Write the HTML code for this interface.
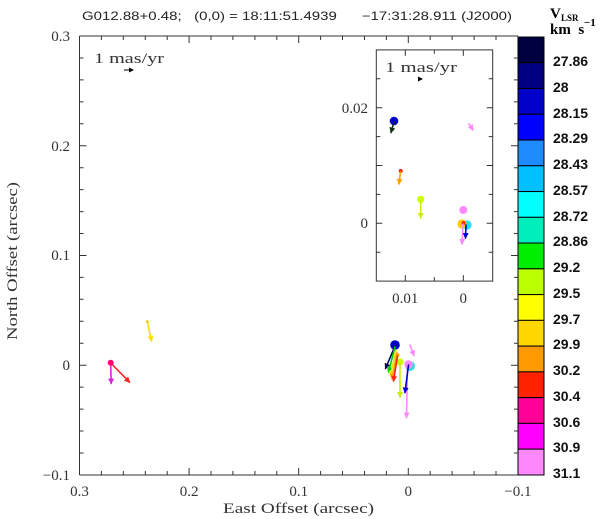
<!DOCTYPE html>
<html><head><meta charset="utf-8">
<style>
html,body{margin:0;padding:0;background:#fff;}
svg{display:block;}
</style></head>
<body>
<svg width="600" height="519" viewBox="0 0 600 519" xmlns="http://www.w3.org/2000/svg">
<defs>
<marker id="mNavy" markerWidth="6" markerHeight="6" refX="5" refY="3" orient="auto" markerUnits="userSpaceOnUse"><path d="M0,0 L6,3 L0,6 z" fill="#000060"/></marker>
<marker id="mDk" markerWidth="6" markerHeight="6" refX="5" refY="3" orient="auto" markerUnits="userSpaceOnUse"><path d="M0,0 L6,3 L0,6 z" fill="#113311"/></marker>
<marker id="mBlue" markerWidth="6" markerHeight="6" refX="5" refY="3" orient="auto" markerUnits="userSpaceOnUse"><path d="M0,0 L6,3 L0,6 z" fill="#0000cc"/></marker>
<marker id="mGreen" markerWidth="6" markerHeight="6" refX="5" refY="3" orient="auto" markerUnits="userSpaceOnUse"><path d="M0,0 L6,3 L0,6 z" fill="#00cc00"/></marker>
<marker id="mYG" markerWidth="6" markerHeight="6" refX="5" refY="3" orient="auto" markerUnits="userSpaceOnUse"><path d="M0,0 L6,3 L0,6 z" fill="#ccee00"/></marker>
<marker id="mYel" markerWidth="6" markerHeight="6" refX="5" refY="3" orient="auto" markerUnits="userSpaceOnUse"><path d="M0,0 L6,3 L0,6 z" fill="#ffdd00"/></marker>
<marker id="mOr" markerWidth="6" markerHeight="6" refX="5" refY="3" orient="auto" markerUnits="userSpaceOnUse"><path d="M0,0 L6,3 L0,6 z" fill="#ffa000"/></marker>
<marker id="mRed" markerWidth="6" markerHeight="6" refX="5" refY="3" orient="auto" markerUnits="userSpaceOnUse"><path d="M0,0 L6,3 L0,6 z" fill="#ff2020"/></marker>
<marker id="mMag" markerWidth="6" markerHeight="6" refX="5" refY="3" orient="auto" markerUnits="userSpaceOnUse"><path d="M0,0 L6,3 L0,6 z" fill="#e020e0"/></marker>
<marker id="mVio" markerWidth="6" markerHeight="6" refX="5" refY="3" orient="auto" markerUnits="userSpaceOnUse"><path d="M0,0 L6,3 L0,6 z" fill="#ff88ff"/></marker>
<marker id="mBlk" markerWidth="5" markerHeight="5" refX="4" refY="2.5" orient="auto" markerUnits="userSpaceOnUse"><path d="M0,0 L5,2.5 L0,5 z" fill="#000"/></marker>
</defs>

<!-- Title -->
<text x="82" y="20" font-family="Liberation Sans, sans-serif" font-size="12" fill="#222" textLength="430" lengthAdjust="spacingAndGlyphs" xml:space="preserve">G012.88+0.48;   (0,0) = 18:11:51.4939      −17:31:28.911 (J2000)</text>

<!-- Colorbar title -->
<text x="550" y="18" font-family="Liberation Serif, serif" font-size="15" font-weight="bold" fill="#000">V</text>
<text x="561" y="21" font-family="Liberation Serif, serif" font-size="9" font-weight="bold" fill="#000">LSR</text>
<text x="550" y="34" font-family="Liberation Serif, serif" font-size="15" font-weight="bold" fill="#000" xml:space="preserve">km  s</text>
<text x="584" y="26" font-family="Liberation Serif, serif" font-size="11" font-weight="bold" fill="#000">−1</text>

<!-- Colorbar -->
<g stroke="#000" stroke-width="1">
<rect x="518" y="37" width="26" height="25.76" fill="#000040"/>
<rect x="518" y="62.76" width="26" height="25.76" fill="#000080"/>
<rect x="518" y="88.52" width="26" height="25.76" fill="#0000c8"/>
<rect x="518" y="114.28" width="26" height="25.76" fill="#0000ff"/>
<rect x="518" y="140.04" width="26" height="25.76" fill="#1e8cff"/>
<rect x="518" y="165.8" width="26" height="25.76" fill="#00c0ff"/>
<rect x="518" y="191.56" width="26" height="25.76" fill="#00ffff"/>
<rect x="518" y="217.32" width="26" height="25.76" fill="#00eebb"/>
<rect x="518" y="243.08" width="26" height="25.76" fill="#00ee00"/>
<rect x="518" y="268.84" width="26" height="25.76" fill="#bbff00"/>
<rect x="518" y="294.6" width="26" height="25.76" fill="#ffff00"/>
<rect x="518" y="320.36" width="26" height="25.76" fill="#ffd700"/>
<rect x="518" y="346.12" width="26" height="25.76" fill="#ff9900"/>
<rect x="518" y="371.88" width="26" height="25.76" fill="#ff2200"/>
<rect x="518" y="397.64" width="26" height="25.76" fill="#ff0099"/>
<rect x="518" y="423.4" width="26" height="25.76" fill="#ff00ff"/>
<rect x="518" y="449.16" width="26" height="25.84" fill="#ff88ff"/>
</g>
<g font-family="Liberation Sans, sans-serif" font-size="14" font-weight="bold" fill="#111">
<text x="553" y="66">27.86</text>
<text x="553" y="92">28</text>
<text x="553" y="118">28.15</text>
<text x="553" y="143">28.29</text>
<text x="553" y="169">28.43</text>
<text x="553" y="195">28.57</text>
<text x="553" y="221">28.72</text>
<text x="553" y="246">28.86</text>
<text x="553" y="272">29.2</text>
<text x="553" y="298">29.5</text>
<text x="553" y="324">29.7</text>
<text x="553" y="349">29.9</text>
<text x="553" y="375">30.2</text>
<text x="553" y="401">30.4</text>
<text x="553" y="427">30.6</text>
<text x="553" y="452">30.9</text>
<text x="553" y="478">31.1</text>
</g>

<!-- Main axes frame -->
<g stroke="#333" stroke-width="1" fill="none">
<line x1="79.5" y1="36" x2="518" y2="36"/>
<line x1="79.5" y1="475" x2="518" y2="475"/>
<line x1="79.5" y1="36" x2="79.5" y2="475"/>
</g>
<!-- x ticks -->
<g stroke="#333" stroke-width="1">
<path d="M79.5,475v-7 M101.4,475v-4 M123.3,475v-4 M145.3,475v-4 M167.2,475v-4 M189.1,475v-7 M211,475v-4 M232.9,475v-4 M254.9,475v-4 M276.8,475v-4 M298.7,475v-7 M320.6,475v-4 M342.5,475v-4 M364.5,475v-4 M386.4,475v-4 M408.3,475v-7 M430.2,475v-4 M452.1,475v-4 M474.1,475v-4 M496,475v-4"/>
<path d="M79.5,36v7 M101.4,36v4 M123.3,36v4 M145.3,36v4 M167.2,36v4 M189.1,36v7 M211,36v4 M232.9,36v4 M254.9,36v4 M276.8,36v4 M298.7,36v7 M320.6,36v4 M342.5,36v4 M364.5,36v4 M386.4,36v4 M408.3,36v7 M430.2,36v4 M452.1,36v4 M474.1,36v4 M496,36v4"/>
<path d="M79.5,36h7 M79.5,58h4 M79.5,79.9h4 M79.5,101.9h4 M79.5,123.8h4 M79.5,145.8h7 M79.5,167.7h4 M79.5,189.6h4 M79.5,211.6h4 M79.5,233.5h4 M79.5,255.5h7 M79.5,277.4h4 M79.5,299.3h4 M79.5,321.3h4 M79.5,343.2h4 M79.5,365.2h7 M79.5,387.1h4 M79.5,409.1h4 M79.5,431h4 M79.5,453h4"/>
<path d="M518,58h-4 M518,79.9h-4 M518,101.9h-4 M518,123.8h-4 M518,145.8h-7 M518,167.7h-4 M518,189.6h-4 M518,211.6h-4 M518,233.5h-4 M518,255.5h-7 M518,277.4h-4 M518,299.3h-4 M518,321.3h-4 M518,343.2h-4 M518,365.2h-7 M518,387.1h-4 M518,409.1h-4 M518,431h-4 M518,453h-4"/>
</g>

<!-- tick labels -->
<g font-family="Liberation Serif, serif" font-size="15" fill="#333">
<text x="70" y="41" text-anchor="end">0.3</text>
<text x="70" y="151" text-anchor="end">0.2</text>
<text x="70" y="260" text-anchor="end">0.1</text>
<text x="70" y="370" text-anchor="end">0</text>
<text x="70" y="480" text-anchor="end">−0.1</text>
<text x="79.5" y="496" text-anchor="middle">0.3</text>
<text x="189.1" y="496" text-anchor="middle">0.2</text>
<text x="298.7" y="496" text-anchor="middle">0.1</text>
<text x="408.3" y="496" text-anchor="middle">0</text>
<text x="517.9" y="496" text-anchor="middle">−0.1</text>
<text x="223" y="513" textLength="151" lengthAdjust="spacingAndGlyphs">East Offset (arcsec)</text>
<text transform="translate(17,340) rotate(-90)" x="0" y="0" textLength="158" lengthAdjust="spacingAndGlyphs">North Offset (arcsec)</text>
<text x="94" y="63" textLength="70" lengthAdjust="spacingAndGlyphs">1 mas/yr</text>
</g>
<line x1="124" y1="70" x2="133" y2="70" stroke="#000" stroke-width="1" marker-end="url(#mBlk)"/>

<!-- Main plot data: left group -->
<g stroke-width="1.6" fill="none" stroke-linecap="round">
<line x1="147.3" y1="321.7" x2="151.5" y2="341" stroke="#ffdd00" marker-end="url(#mYel)"/>
<line x1="110.7" y1="363" x2="111.2" y2="383.5" stroke="#e020e0" marker-end="url(#mMag)"/>
<line x1="110.7" y1="363" x2="129.5" y2="382.2" stroke="#ff2020" marker-end="url(#mRed)"/>
</g>
<circle cx="147.3" cy="321.7" r="1.5" fill="#ffcc00"/>
<circle cx="110.7" cy="362.7" r="3" fill="#ff0077"/>

<!-- Main plot data: near-origin group -->
<circle cx="395" cy="345" r="4.8" fill="#0000c0"/>
<circle cx="410" cy="366" r="5" fill="#33dddd"/>
<circle cx="408.5" cy="364.5" r="4.2" fill="#ff88ff"/>
<circle cx="400" cy="362" r="3.6" fill="#ccff00"/>
<circle cx="397.3" cy="355" r="2.2" fill="#ffaa00"/>
<g stroke-width="1.6" fill="none" stroke-linecap="round">
<line x1="395" y1="346" x2="385.5" y2="368.5" stroke="#000060" marker-end="url(#mNavy)"/>
<line x1="395" y1="347" x2="388.5" y2="372" stroke="#00cc00" marker-end="url(#mGreen)"/>
<line x1="396" y1="350" x2="390.5" y2="376" stroke="#ffdd00" marker-end="url(#mYel)"/>
<line x1="397" y1="353" x2="392" y2="379" stroke="#ffa000" marker-end="url(#mOr)"/>
<line x1="397.5" y1="356" x2="393.5" y2="381" stroke="#ff2020" marker-end="url(#mRed)"/>
<line x1="400" y1="362" x2="400" y2="397" stroke="#ccee00" marker-end="url(#mYG)"/>
<line x1="407.5" y1="365" x2="406.5" y2="417.5" stroke="#ff88ff" marker-end="url(#mVio)"/>
<line x1="408.5" y1="365" x2="405" y2="392.5" stroke="#0000cc" marker-end="url(#mBlue)"/>
<line x1="410" y1="345" x2="414" y2="355.5" stroke="#ff88ff" marker-end="url(#mVio)"/>
</g>

<!-- Inset -->
<rect x="376.3" y="49.9" width="116.4" height="231.2" fill="#fff" stroke="#333" stroke-width="1"/>
<g stroke="#333" stroke-width="1">
<path d="M405.3,49.9v6 M434.3,49.9v4 M463.3,49.9v6 M405.3,281.1v-6 M434.3,281.1v-4 M463.3,281.1v-6"/>
<path d="M376.3,78.8h4 M376.3,107.7h6 M376.3,136.6h4 M376.3,165.5h6 M376.3,194.4h4 M376.3,223.3h6 M376.3,252.2h4"/>
<path d="M492.7,78.8h-4 M492.7,107.7h-6 M492.7,136.6h-4 M492.7,165.5h-6 M492.7,194.4h-4 M492.7,223.3h-6 M492.7,252.2h-4"/>
</g>
<g font-family="Liberation Serif, serif" font-size="15" fill="#333">
<text x="368" y="113" text-anchor="end">0.02</text>
<text x="368" y="228" text-anchor="end">0</text>
<text x="405.3" y="303" text-anchor="middle">0.01</text>
<text x="463.3" y="303" text-anchor="middle">0</text>
<text x="385" y="72" textLength="72" lengthAdjust="spacingAndGlyphs">1 mas/yr</text>
</g>
<line x1="418" y1="79" x2="422" y2="79" stroke="#000" stroke-width="1" marker-end="url(#mBlk)"/>

<circle cx="394" cy="121" r="4.3" fill="#0000cc"/>
<circle cx="420.7" cy="199.3" r="3.6" fill="#ccff00"/>
<circle cx="463.3" cy="210" r="4" fill="#ff88ff"/>
<circle cx="467" cy="225" r="4.6" fill="#22e0ee"/>
<circle cx="462" cy="224" r="4.6" fill="#ffcc00"/>
<circle cx="400.7" cy="171" r="2" fill="#ff2200"/>
<circle cx="463.5" cy="223" r="2" fill="#ff2200"/>
<g stroke-width="1.6" fill="none" stroke-linecap="round">
<line x1="394" y1="122" x2="391" y2="132.5" stroke="#113311" marker-end="url(#mDk)"/>
<line x1="469" y1="124" x2="473" y2="130" stroke="#ff88ff" marker-end="url(#mVio)"/>
<line x1="400.5" y1="172" x2="399" y2="184" stroke="#ffa000" marker-end="url(#mOr)"/>
<line x1="420.7" y1="200" x2="420.7" y2="218" stroke="#ccee00" marker-end="url(#mYG)"/>
<line x1="463" y1="224" x2="462" y2="244" stroke="#ff88ff" marker-end="url(#mVio)"/>
<line x1="466" y1="225" x2="465.5" y2="238" stroke="#0000cc" marker-end="url(#mBlue)"/>
</g>
</svg>
</body></html>
